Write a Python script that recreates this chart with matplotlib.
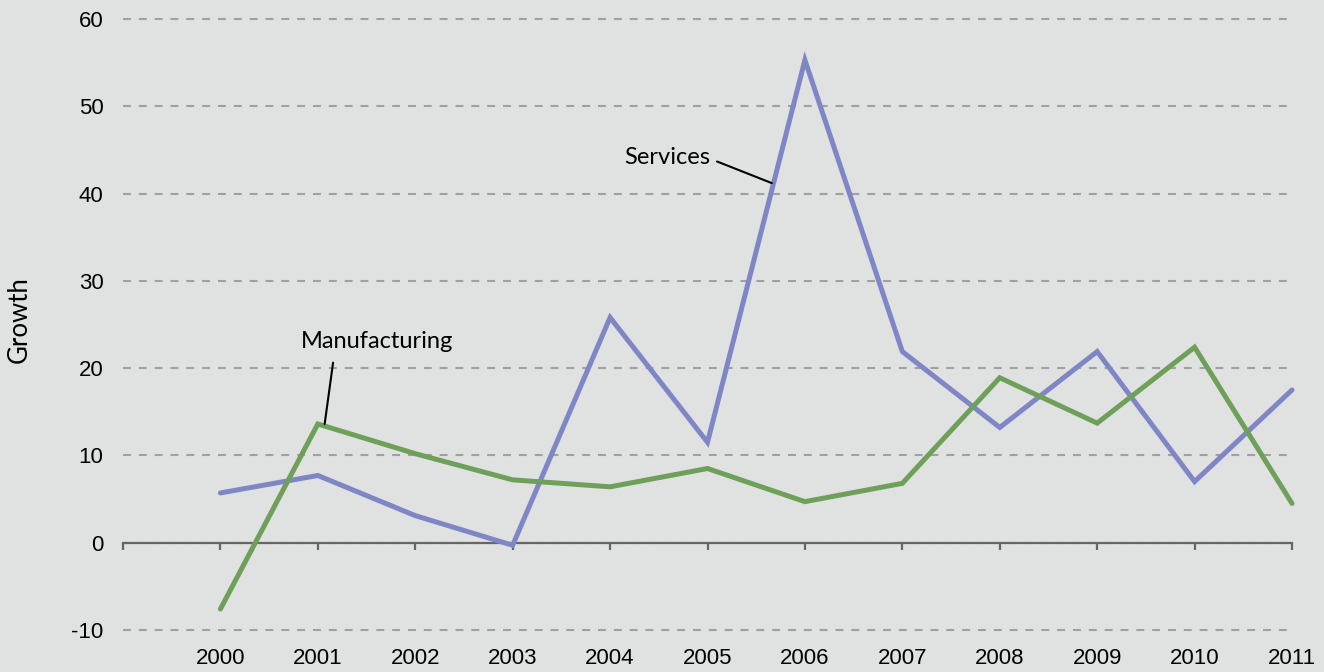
import matplotlib.pyplot as plt

years = ['2000', '2001', '2002', '2003', '2004', '2005',
         '2006', '2007', '2008', '2009', '2010', '2011']
services = [5.7, 7.7, 3.1, -0.3, 25.8, 11.5, 55.3, 21.9, 13.2, 21.9, 7.0, 17.5]
manufacturing = [-7.6, 13.6, 10.2, 7.2, 6.4, 8.5, 4.7, 6.8, 18.9, 13.7, 22.4, 4.5]
y_ticks = [-10, 0, 10, 20, 30, 40, 50, 60]

bg = '#e0e2e1'
c_serv = '#7f86c6'
c_manu = '#6ea05a'
axis_col = '#666666'

plt.rcParams['font.family'] = ['Liberation Sans', 'DejaVu Sans']
plt.rcParams['axes.unicode_minus'] = False

fig = plt.figure(figsize=(13.24, 6.72), dpi=100, facecolor=bg)
ax = fig.add_axes([123 / 1324, 1 - 631.7 / 672, (1292 - 123) / 1324, (631.7 - 17.3) / 672])
ax.set_facecolor(bg)

x = list(range(1, len(years) + 1))
ax.plot(x, services, color=c_serv, lw=3.6, solid_joinstyle='miter',
        solid_capstyle='round', clip_on=False, zorder=3)
ax.plot(x, manufacturing, color=c_manu, lw=3.6, solid_joinstyle='miter',
        solid_capstyle='round', clip_on=False, zorder=3)

ax.set_xlim(0, 12)
ax.set_ylim(-10.2, 60.2)

# dashed horizontal grid
ax.set_yticks(y_ticks)
ax.yaxis.grid(True, color='#a0a0a3', lw=1.5, linestyle=(0, (3.8, 3.8)))
ax.set_axisbelow(True)
ax.tick_params(axis='y', length=0, pad=14, labelsize=16)

# x axis line at zero with ticks between categories
for s in ['top', 'right', 'left']:
    ax.spines[s].set_visible(False)
ax.spines['bottom'].set_position(('data', 0))
ax.spines['bottom'].set_color(axis_col)
ax.spines['bottom'].set_linewidth(1.6)
ax.spines['bottom'].set_zorder(2)
ax.set_xticks(range(0, 13))
ax.tick_params(axis='x', length=5, width=1.6, color=axis_col, direction='out',
               labelbottom=False)

# year labels along the bottom of the plot
sec = ax.secondary_xaxis(location=0)
sec.set_xticks(x)
sec.set_xticklabels(years)
sec.tick_params(length=0, pad=12, labelsize=16)
sec.spines['bottom'].set_visible(False)

fig.text(19 / 1324, 1 - 320 / 672, 'Growth', fontsize=18.5, rotation=90,
         ha='center', va='center', family=['Lato', 'DejaVu Sans'])

# series labels
ax.annotate('Services', xy=(6.66, 41.2), xytext=(6.03, 44.1),
            fontsize=17, family=['Lato', 'DejaVu Sans'], ha='right', va='center',
            arrowprops=dict(arrowstyle='-', color='black', lw=1.5,
                            relpos=(1.0, 0.45), shrinkA=3, shrinkB=0))
ax.annotate('Manufacturing', xy=(2.07, 13.6), xytext=(2.61, 23.1),
            fontsize=17, family=['Lato', 'DejaVu Sans'], ha='center', va='center',
            arrowprops=dict(arrowstyle='-', color='black', lw=1.5,
                            relpos=(0.22, 0.0), shrinkA=6, shrinkB=0))

fig.savefig('out.png', dpi=100, facecolor=bg)
